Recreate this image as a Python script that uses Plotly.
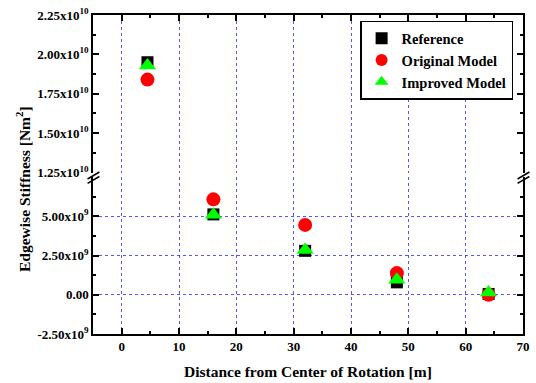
import plotly.graph_objects as go

# ---- data ----
distance = [4.5, 16, 32, 48, 64]
reference = [1.95e10, 5.12e9, 2.80e9, 0.79e9, 0.05e9]
original_model = [1.84e10, 6.08e9, 4.45e9, 1.38e9, 0.0]
improved_model = [1.93e10, 5.10e9, 2.85e9, 0.96e9, 0.15e9]

series_names = ["Reference", "Original Model", "Improved Model"]
series_values = [reference, original_model, improved_model]
series_colors = ["#000000", "#ff0000", "#00ff00"]
series_symbols = ["square", "circle", "triangle-up"]
series_sizes = [12, 14, 15]

x_ticks = [0, 10, 20, 30, 40, 50, 60, 70]
x_ticktext = ["0", "10", "20", "30", "40", "50", "60", "70"]
low_ticks = [-2.5e9, 0.0, 2.5e9, 5.0e9]
low_ticktext = ["-2.50x10<sup>9</sup>", "0.00", "2.50x10<sup>9</sup>", "5.00x10<sup>9</sup>"]
high_ticks = [1.25e10, 1.5e10, 1.75e10, 2.0e10, 2.25e10]
high_ticktext = ["1.25x10<sup>10</sup>", "1.50x10<sup>10</sup>", "1.75x10<sup>10</sup>",
                 "2.00x10<sup>10</sup>", "2.25x10<sup>10</sup>"]
high_grid = [1.5e10, 1.75e10, 2.0e10]

X_RANGE = [-5, 70]
LOW_RANGE = [-2.5e9, 7.5e9]
HIGH_RANGE = [1.25e10, 2.25e10]
BREAK = 1.0e10

FONT = "Liberation Serif, Times New Roman, serif"

fig = go.Figure()
for name, vals, col, sym, sz in zip(series_names, series_values, series_colors, series_symbols, series_sizes):
    lx = [x for x, v in zip(distance, vals) if v < BREAK]
    ly = [v for v in vals if v < BREAK]
    hx = [x for x, v in zip(distance, vals) if v >= BREAK]
    hy = [v for v in vals if v >= BREAK]
    fig.add_trace(go.Scatter(x=lx, y=ly, mode="markers", name=name, legendgroup=name,
                             marker=dict(symbol=sym, size=sz, color=col, line=dict(width=0)),
                             xaxis="x", yaxis="y"))
    fig.add_trace(go.Scatter(x=hx, y=hy, mode="markers", name=name, legendgroup=name, showlegend=False,
                             marker=dict(symbol=sym, size=sz, color=col, line=dict(width=0)),
                             xaxis="x2", yaxis="y2"))

tickfont = dict(family=FONT, size=13, color="black", weight="bold")
gridcol = "rgba(30,30,255,0.75)"
common_axis = dict(showline=True, linecolor="black", linewidth=1.5, ticks="inside",
                   ticklen=6, tickwidth=1.5, tickcolor="black", zeroline=False)

fig.update_layout(
    width=536, height=383,
    margin=dict(l=93, r=6, t=14, b=49),
    paper_bgcolor="white", plot_bgcolor="white",
    xaxis=dict(**common_axis, range=X_RANGE, tickmode="array", tickvals=x_ticks, ticktext=x_ticktext,
               tickfont=tickfont, anchor="y", domain=[0, 1], mirror=False,
               showgrid=True, gridcolor=gridcol, griddash="dot", gridwidth=1,
               minor=dict(tickmode="linear", tick0=-5, dtick=5, ticks="inside", ticklen=3,
                          tickwidth=1.5, tickcolor="black", showgrid=False)),
    xaxis2=dict(**common_axis, range=X_RANGE, tickmode="array", tickvals=x_ticks,
                showticklabels=False, anchor="y2", side="top", domain=[0, 1], mirror=False,
                showgrid=True, gridcolor=gridcol, griddash="dot", gridwidth=1,
                minor=dict(tickmode="linear", tick0=-5, dtick=5, ticks="inside", ticklen=3,
                           tickwidth=1.5, tickcolor="black", showgrid=False)),
    yaxis=dict(**common_axis, range=LOW_RANGE, domain=[0, 0.492], anchor="x", mirror="ticks",
               tickmode="array", tickvals=low_ticks, ticktext=low_ticktext, tickfont=tickfont,
               showgrid=True, gridcolor=gridcol, griddash="dot", gridwidth=1,
               minor=dict(tickmode="linear", tick0=-2.5e9, dtick=1.25e9, ticks="inside", ticklen=3,
                          tickwidth=1.5, tickcolor="black", showgrid=False)),
    yaxis2=dict(**common_axis, range=HIGH_RANGE, domain=[0.506, 1], anchor="x2", mirror="ticks",
                tickmode="array", tickvals=high_ticks, ticktext=high_ticktext, tickfont=tickfont,
                showgrid=False,
                minor=dict(tickmode="linear", tick0=1.25e10, dtick=1.25e9, ticks="inside", ticklen=3,
                           tickwidth=1.5, tickcolor="black", showgrid=False)),
    yaxis3=dict(range=HIGH_RANGE, overlaying="y2", anchor="x2", showline=False, ticks="",
                showticklabels=False, tickmode="array", tickvals=high_grid, zeroline=False,
                showgrid=True, gridcolor=gridcol, griddash="dot", gridwidth=1),
    legend=dict(x=0.977, xanchor="right", y=0.982, yanchor="top",
                bgcolor="white", bordercolor="black", borderwidth=1.5,
                font=dict(family=FONT, size=14.5, color="black", weight="bold"),
                tracegroupgap=0, itemsizing="constant"),
    showlegend=True,
)

# axis titles
fig.add_annotation(text="Distance from Center of Rotation [m]", xref="paper", yref="paper",
                   x=0.5, y=-0.118, xanchor="center", yanchor="middle", showarrow=False,
                   font=dict(family=FONT, size=15.5, color="black", weight="bold"))
fig.add_annotation(text="Edgewise Stiffness [Nm<sup>2</sup>]", xref="paper", yref="paper",
                   x=-0.1625, y=0.455, xanchor="center", yanchor="middle", showarrow=False,
                   textangle=-90,
                   font=dict(family=FONT, size=15.5, color="black", weight="bold"))

# axis break marks (//) on left and right axes
W = 437.0
H = 320.0
def px(xp):
    return (xp - 93) / W
def py(yp):
    return (334 - yp) / H
for x0 in (87.5, 524.5):
    for dy in (0, 4.5):
        fig.add_shape(type="line", xref="paper", yref="paper",
                      x0=px(x0), y0=py(178.5 + dy), x1=px(x0 + 12), y1=py(171.5 + dy),
                      line=dict(color="black", width=1.5))

fig.write_html("out.html")
